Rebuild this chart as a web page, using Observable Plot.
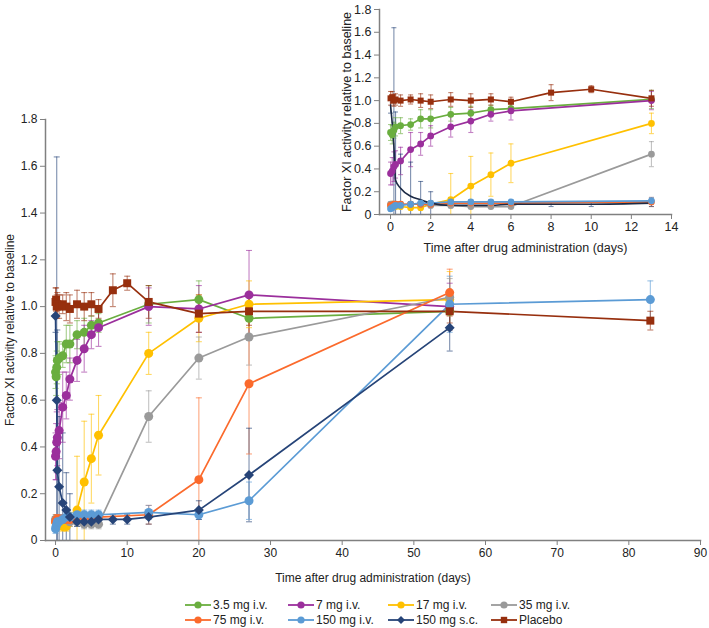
<!DOCTYPE html>
<html><head><meta charset="utf-8">
<script src="https://cdn.jsdelivr.net/npm/d3@7"></script>
<script src="https://cdn.jsdelivr.net/npm/@observablehq/plot@0.6"></script>
<style>
body{margin:0;background:#fff;font-family:"Liberation Sans",Arial,sans-serif;}
#wrap{position:relative;width:709px;height:628px;overflow:hidden;}
#main{position:absolute;left:0;top:0;}
#inset{position:absolute;left:330px;top:0;}
#legend{position:absolute;left:185px;top:598px;display:grid;grid-template-columns:103px 100px 103px 110px;row-gap:1px;font-size:12px;color:#222;}
.item{display:flex;align-items:center;height:14px;white-space:nowrap;}
.item svg{margin-right:2px;}
</style></head>
<body><div id="wrap"><div id="main"></div><div id="inset"></div><div id="legend"></div></div>
<script>
// ---- series definitions ----
const seriesNames = ["3.5 mg i.v.", "7 mg i.v.", "17 mg i.v.", "35 mg i.v.", "75 mg i.v.", "150 mg i.v.", "150 mg s.c.", "Placebo"];
const seriesColors = ["#6aae3f", "#9b2f9c", "#ffc000", "#9a9a9a", "#fb6a2c", "#5b9bd5", "#264478", "#972f0e"];
const seriesSymbols = ["circle", "circle", "circle", "circle", "circle", "circle", "diamond2", "square"];

// ---- time points (days) ----
const tIV = [0, 0.083, 0.167, 0.25, 0.5, 1, 1.5, 2, 3, 4, 5, 6, 13, 20, 27, 55];
const tIV150 = [0, 0.083, 0.167, 0.25, 0.5, 1, 1.5, 2, 3, 4, 5, 6, 13, 20, 27, 55, 83];
const tSC = [0, 0.167, 0.25, 0.5, 1, 1.5, 2, 3, 4, 5, 6, 8, 10, 13, 20, 27, 55];
const tPlacebo = [0, 0.083, 0.167, 0.25, 0.5, 1, 1.5, 2, 3, 4, 5, 6, 8, 10, 13, 20, 27, 55, 83];

// ---- mean values (Factor XI activity relative to baseline) ----
const v3_5 = [0.72, 0.70, 0.74, 0.77, 0.78, 0.79, 0.84, 0.84, 0.88, 0.89, 0.92, 0.93, 1.01, 1.03, 0.95, 0.98];
const v7 = [0.36, 0.38, 0.42, 0.44, 0.47, 0.57, 0.62, 0.69, 0.77, 0.82, 0.88, 0.91, 1.00, 0.99, 1.05, 1.00];
const v17 = [0.08, 0.09, 0.07, 0.07, 0.07, 0.06, 0.06, 0.09, 0.13, 0.25, 0.35, 0.45, 0.80, 0.95, 1.01, 1.03];
const v35 = [0.09, 0.09, 0.09, 0.09, 0.09, 0.09, 0.09, 0.08, 0.08, 0.07, 0.07, 0.07, 0.53, 0.78, 0.87, 1.04];
const v75 = [0.08, 0.08, 0.09, 0.09, 0.09, 0.09, 0.09, 0.09, 0.10, 0.10, 0.10, 0.10, 0.11, 0.26, 0.67, 1.06];
const v150iv = [0.05, 0.06, 0.07, 0.08, 0.08, 0.09, 0.10, 0.10, 0.11, 0.11, 0.11, 0.11, 0.12, 0.11, 0.17, 1.01, 1.03];
const v150sc = [0.96, 0.60, 0.30, 0.23, 0.16, 0.13, 0.10, 0.08, 0.08, 0.08, 0.09, 0.09, 0.09, 0.10, 0.13, 0.28, 0.91];
const vPlacebo = [1.02, 1.03, 1.00, 1.01, 1.00, 1.01, 1.00, 0.99, 1.01, 1.00, 1.01, 0.99, 1.07, 1.10, 1.02, 0.97, 0.98, 0.98, 0.94];

// ---- error bar half-widths ----
const e3_5 = [0.07, 0.08, 0.07, 0.08, 0.07, 0.05, 0.08, 0.08, 0.06, 0.06, 0.04, 0.04, 0.08, 0.08, 0.09, 0.08];
const e7 = [0.10, 0.12, 0.13, 0.12, 0.12, 0.15, 0.10, 0.09, 0.09, 0.10, 0.06, 0.08, 0.08, 0.10, 0.19, 0.10];
const e17 = [0.02, 0.02, 0.02, 0.02, 0.02, 0.02, 0.02, 0.03, 0.23, 0.26, 0.19, 0.17, 0.09, 0.10, 0.10, 0.12];
const e35 = [0.02, 0.02, 0.02, 0.02, 0.02, 0.02, 0.02, 0.02, 0.02, 0.02, 0.02, 0.02, 0.11, 0.09, 0.12, 0.08];
const e75 = [0.02, 0.02, 0.02, 0.02, 0.02, 0.02, 0.02, 0.02, 0.02, 0.02, 0.02, 0.02, 0.04, 0.35, 0.30, 0.10];
const e150iv = [0.02, 0.02, 0.02, 0.02, 0.02, 0.02, 0.02, 0.02, 0.02, 0.02, 0.02, 0.02, 0.03, 0.02, 0.08, 0.12, 0.08];
const e150sc = [0.07, 1.04, 0.60, 0.30, 0.30, 0.16, 0.10, 0.02, 0.02, 0.02, 0.02, 0.02, 0.02, 0.03, 0.04, 0.20, 0.10];
const ePlacebo = [0.06, 0.05, 0.05, 0.05, 0.05, 0.04, 0.06, 0.06, 0.06, 0.06, 0.05, 0.04, 0.07, 0.03, 0.07, 0.08, 0.06, 0.05, 0.04];

// ---- axis ticks ----
const yTicks = [0, 0.2, 0.4, 0.6, 0.8, 1.0, 1.2, 1.4, 1.6, 1.8];
const xTicksMain = [0, 10, 20, 30, 40, 50, 60, 70, 80, 90];
const xTicksInset = [0, 2, 4, 6, 8, 10, 12, 14];
const xLabel = "Time after drug administration (days)";
const yLabel = "Factor XI activity relative to baseline";

// ---- build a long table ----
const seriesTimes = [tIV, tIV, tIV, tIV, tIV, tIV150, tSC, tPlacebo];
const seriesValues = [v3_5, v7, v17, v35, v75, v150iv, v150sc, vPlacebo];
const seriesErrors = [e3_5, e7, e17, e35, e75, e150iv, e150sc, ePlacebo];
const rows = [];
seriesNames.forEach((name, i) => {
  seriesTimes[i].forEach((t, j) => {
    const v = seriesValues[i][j], e = seriesErrors[i][j];
    rows.push({series: name, t, v, lo: Math.max(0, v - e), hi: v + e});
  });
});

const tickFmt = d => d === 0 ? "0" : d3.format(".1f")(d);
const cap = {draw(ctx, size) { const w = Math.sqrt(size / Math.PI); ctx.moveTo(-w, 0); ctx.lineTo(w, 0); }};
const FONT = '"Liberation Sans", Arial, sans-serif';
const AXIS = "#808080";

function chart({data, width, height, margins, xDomain, xTicks, r, capR, fontSize, xLabelOffset, yLabelOffset, curveSeries}) {
  const pts = data.filter(d => d.t <= xDomain[1]);
  const dotPts = curveSeries ? pts.filter(d => d.series !== curveSeries) : pts;
  const linePts = curveSeries ? pts.filter(d => d.series !== curveSeries) : pts;
  const marks = [
    Plot.ruleX(pts, {x: "t", y1: "lo", y2: "hi", stroke: "series", strokeOpacity: 0.6, strokeWidth: 1.1}),
    Plot.dot(pts, {x: "t", y: "hi", symbol: cap, r: capR, stroke: "series", strokeOpacity: 0.6, strokeWidth: 1.1}),
    Plot.dot(pts, {x: "t", y: "lo", symbol: cap, r: capR, stroke: "series", strokeOpacity: 0.6, strokeWidth: 1.1}),
    Plot.line(linePts, {x: "t", y: "v", stroke: "series", strokeWidth: 1.7})
  ];
  if (curveSeries) {
    marks.push(Plot.line(pts.filter(d => d.series === curveSeries), {x: "t", y: "v", stroke: "#1c2a45", strokeWidth: 1.6, curve: "monotone-x"}));
  }
  marks.push(
    Plot.dot(dotPts, {x: "t", y: "v", fill: "series", symbol: "series", r}),
    Plot.frame({anchor: "left", stroke: AXIS, strokeWidth: 1.5}),
    Plot.frame({anchor: "bottom", stroke: AXIS, strokeWidth: 1.5}),
    Plot.axisY({ticks: yTicks, tickFormat: tickFmt, tickSize: 5, tickPadding: 3, stroke: AXIS,
      label: yLabel, labelAnchor: "center", labelArrow: "none", labelOffset: yLabelOffset}),
    Plot.axisX({ticks: xTicks, tickSize: 5, tickPadding: 3, stroke: AXIS,
      label: xLabel, labelAnchor: "center", labelArrow: "none", labelOffset: xLabelOffset})
  );
  return Plot.plot({
    width, height, ...margins,
    x: {domain: xDomain},
    y: {domain: [0, 1.8]},
    color: {domain: seriesNames, range: seriesColors},
    symbol: {domain: seriesNames, range: seriesSymbols},
    style: {fontFamily: FONT, fontSize: fontSize + "px", color: "#222", background: "transparent", overflow: "visible"},
    marks
  });
}

document.getElementById("main").append(chart({
  data: rows, width: 709, height: 590,
  margins: {marginLeft: 45, marginRight: 9, marginTop: 119, marginBottom: 50},
  xDomain: [-1.4, 90], xTicks: xTicksMain, r: 4.5, capR: 3, fontSize: 12,
  xLabelOffset: 41, yLabelOffset: 40
}));

document.getElementById("inset").append(chart({
  data: rows, width: 350, height: 255,
  margins: {marginLeft: 49, marginRight: 9, marginTop: 9, marginBottom: 41},
  xDomain: [-0.55, 14], xTicks: xTicksInset, r: 3.4, capR: 2.5, fontSize: 12.5,
  xLabelOffset: 37, yLabelOffset: 37, curveSeries: "150 mg s.c."
}));

// ---- legend ----
const legend = document.getElementById("legend");
const order = [0, 1, 2, 3, 4, 5, 6, 7];
order.forEach(i => {
  const item = document.createElement("div");
  item.className = "item";
  const sw = d3.create("svg").attr("width", 26).attr("height", 10);
  sw.append("line").attr("x1", 0).attr("x2", 26).attr("y1", 5).attr("y2", 5).attr("stroke", seriesColors[i]).attr("stroke-width", 1.8);
  const symType = seriesSymbols[i] === "square" ? d3.symbolSquare : seriesSymbols[i] === "diamond2" ? d3.symbolDiamond2 : d3.symbolCircle;
  sw.append("path").attr("transform", "translate(13,5)").attr("d", d3.symbol(symType, 3.6 * 3.6 * Math.PI)()).attr("fill", seriesColors[i]);
  item.append(sw.node());
  const span = document.createElement("span");
  span.textContent = seriesNames[i];
  item.append(span);
  legend.append(item);
});
</script>
</body></html>
